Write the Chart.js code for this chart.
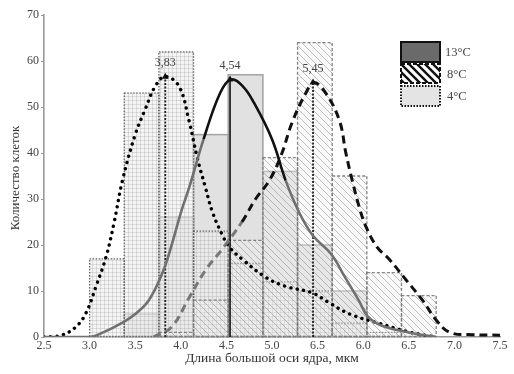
<!DOCTYPE html>
<html><head><meta charset="utf-8">
<script src="https://cdn.jsdelivr.net/npm/chart.js@4"></script>
<style>html,body{margin:0;padding:0;background:#fff}#wrap{width:514px;height:374px;position:relative}</style>
</head><body><div id="wrap"><canvas id="c"></canvas></div>
<script>
// ---- data ----
const binStarts = [3.0, 3.38, 3.76, 4.14, 4.52, 4.90, 5.28, 5.66, 6.04, 6.42];
const binWidth = 0.38;
const counts13 = [0, 5, 26, 44, 57, 36, 20, 10, 0, 0];
const counts8  = [0, 0, 1, 8, 21, 39, 64, 35, 14, 9];
const counts4  = [17, 53, 62, 23, 16, 12, 10, 3, 1, 0];

const fit13X = [2.5, 3.0, 3.15, 3.35, 3.5, 3.65, 3.8, 3.9, 4.0, 4.1, 4.25, 4.43, 4.55, 4.68, 4.8, 5.0, 5.15, 5.3, 5.45, 5.65, 5.8, 5.95, 6.05, 6.2, 6.5, 6.8];
const fit13Y = [0, 0, 1, 3, 5, 8, 14, 20, 27, 33, 43, 53, 56, 54.5, 51, 43, 34, 27, 22, 18, 13, 8, 4.5, 2.5, 1, 0];

const fit4X = [2.5, 2.6, 2.7, 2.85, 2.96, 3.07, 3.18, 3.27, 3.36, 3.5, 3.61, 3.72, 3.83, 3.98, 4.09, 4.18, 4.27, 4.35, 4.46, 4.53, 4.68, 4.93, 5.15, 5.44, 5.63, 5.85, 6.17, 6.52, 6.8];
const fit4Y = [0, 0.1, 0.4, 2.2, 5.2, 11, 17.4, 25, 34, 44, 49.5, 54.5, 56.6, 54.5, 47, 39, 32.5, 27, 22, 19.6, 16.8, 13, 11, 9.6, 7.4, 5, 3, 1, 0];

const fit8X = [3.7, 3.9, 4.09, 4.27, 4.45, 4.67, 4.82, 4.97, 5.1, 5.22, 5.37, 5.46, 5.59, 5.74, 5.81, 5.88, 5.96, 6.03, 6.15, 6.29, 6.47, 6.65, 6.8, 6.95, 7.2, 7.5];
const fit8Y = [0, 2.2, 8.5, 14.5, 19, 25, 30, 34, 39.5, 46.6, 53, 55.3, 53, 47, 40, 34, 28, 24, 19.6, 16.8, 12.4, 8, 3.7, 1, 0.5, 0.4];

const peakX = [3.83, 4.54, 5.45];
const peakY = [56.6, 56, 55.3];
const peakLabels = ['3,83', '4,54', '5,45'];

const xTickLabels = ['2.5', '3.0', '3.5', '4.0', '4.5', '5.0', '6.5', '6.0', '6.5', '7.0', '7.5'];
const seriesNames = ['13°C', '8°C', '4°C'];
const xTitle = 'Длина большой оси ядра, мкм';
const yTitle = 'Количество клеток';

// ---- helpers ----
const FONT = "'Liberation Serif', 'Times New Roman', serif";
Chart.defaults.font.family = FONT;

function gridPattern() {
  const c = document.createElement('canvas'); c.width = 4; c.height = 4;
  const g = c.getContext('2d');
  g.fillStyle = 'rgba(238,238,238,0.6)'; g.fillRect(0, 0, 4, 4);
  g.fillStyle = 'rgba(160,160,160,0.3)'; g.fillRect(0, 0, 4, 1); g.fillRect(0, 0, 1, 4);
  return g.createPattern(c, 'repeat');
}
function hatchPattern(color, lw, size, bg) {
  const c = document.createElement('canvas'); c.width = size; c.height = size;
  const g = c.getContext('2d');
  if (bg) { g.fillStyle = bg; g.fillRect(0, 0, size, size); }
  g.strokeStyle = color; g.lineWidth = lw;
  g.beginPath();
  g.moveTo(-1, -1); g.lineTo(size + 1, size + 1);
  g.moveTo(-1, size - 1); g.lineTo(1, size + 1);
  g.moveTo(size - 1, -1); g.lineTo(size + 1, 1);
  g.stroke();
  return g.createPattern(c, 'repeat');
}
function bars(counts) {
  const out = [];
  counts.forEach((v, i) => { if (v > 0) out.push({ x: binStarts[i] + binWidth / 2, y: v }); });
  return out;
}
function pts(xs, ys) { return xs.map((x, i) => ({ x, y: ys[i] })); }

const barCommon = { type: 'bar', grouped: false, barPercentage: 1, categoryPercentage: 1, borderWidth: 0 };
const lineCommon = { type: 'line', pointRadius: 0, tension: 0.4, fill: false, order: 0 };

const datasets = [
  Object.assign({}, lineCommon, { label: 'fit13', data: pts(fit13X, fit13Y), borderWidth: 2.6, borderColor: '#000',
    segment: { borderColor: c => (c.p0.parsed.y > 33 && c.p1.parsed.y > 33) ? '#111' : '#707070' } }),
  Object.assign({}, lineCommon, { label: 'fit8', data: pts(fit8X, fit8Y), borderWidth: 3, borderColor: '#000', borderDash: [8, 5],
    segment: { borderColor: c => (c.p1.parsed.x < 4.75) ? '#777' : '#111' } }),
  Object.assign({}, lineCommon, { label: 'fit4', data: pts(fit4X, fit4Y), borderWidth: 3.4, borderColor: '#000', borderDash: [0.1, 6.4], borderCapStyle: 'round' }),
];
peakX.forEach((px, i) => {
  datasets.push(Object.assign({}, lineCommon, {
    label: 'peak' + i, data: [{ x: px, y: 0 }, { x: px, y: peakY[i] }], tension: 0,
    borderColor: i === 1 ? '#111' : '#222', borderWidth: i === 1 ? 1.6 : 1.8, borderDash: i === 1 ? [] : [2, 1.5],
    pointRadius: [0, 4], pointStyle: 'triangle', pointBackgroundColor: '#111', pointBorderWidth: 0
  }));
});
datasets.push(Object.assign({}, barCommon, { label: seriesNames[1], data: bars(counts8), order: 1,
  backgroundColor: hatchPattern('rgba(130,130,130,0.5)', 1, 7, 'rgba(242,242,242,0.35)'),
  outlineDash: [3, 2], outlineColor: 'rgba(120,120,120,0.9)', outlineWidth: 1.3 }));
datasets.push(Object.assign({}, barCommon, { label: seriesNames[2], data: bars(counts4), order: 2,
  backgroundColor: gridPattern(), outlineDash: [1.5, 1.5], outlineColor: 'rgba(90,90,90,0.9)', outlineWidth: 1.3 }));
datasets.push(Object.assign({}, barCommon, { label: seriesNames[0], data: bars(counts13), order: 3,
  backgroundColor: 'rgba(205,205,205,0.6)', outlineDash: [], outlineColor: 'rgba(155,155,155,0.9)', outlineWidth: 1.5 }));

const overlay = {
  id: 'overlay',
  afterDatasetDraw(chart, args) {
    const ds = chart.data.datasets[args.index];
    if (!ds.outlineDash) return;
    const ctx = chart.ctx; ctx.save();
    ctx.setLineDash(ds.outlineDash); ctx.strokeStyle = ds.outlineColor; ctx.lineWidth = ds.outlineWidth;
    args.meta.data.forEach(el => {
      const p = el.getProps(['x', 'y', 'base', 'width'], true);
      ctx.strokeRect(p.x - p.width / 2, p.y, p.width, p.base - p.y);
    });
    ctx.restore();
  },
  afterDraw(chart) {
    const ctx = chart.ctx, xs = chart.scales.x, ys = chart.scales.y, ca = chart.chartArea;
    ctx.save();
    // peak labels
    ctx.font = '12px ' + FONT; ctx.fillStyle = '#444'; ctx.textAlign = 'center'; ctx.textBaseline = 'middle';
    peakX.forEach((px, i) => ctx.fillText(peakLabels[i], xs.getPixelForValue(px), ys.getPixelForValue(peakY[i] + 3)));
    // axis titles
    ctx.font = '13.5px ' + FONT; ctx.fillStyle = '#333';
    ctx.fillText(xTitle, (ca.left + ca.right) / 2, ca.bottom + 21);
    ctx.font = '13px ' + FONT;
    ctx.save(); ctx.translate(16, (ca.top + ca.bottom) / 2 + 2); ctx.rotate(-Math.PI / 2);
    ctx.fillText(yTitle, 0, 0); ctx.restore();
    // legend
    const lx = 401, lw = 39, boxes = [[42, 20], [64, 19], [86, 20]];
    ctx.fillStyle = '#6a6a6a'; ctx.fillRect(lx, boxes[0][0], lw, boxes[0][1]);
    ctx.setLineDash([]); ctx.lineWidth = 2; ctx.strokeStyle = '#111'; ctx.strokeRect(lx, boxes[0][0], lw, boxes[0][1]);
    ctx.fillStyle = '#fff'; ctx.fillRect(lx, boxes[1][0], lw, boxes[1][1]);
    ctx.save(); ctx.translate(lx, boxes[1][0]);
    ctx.fillStyle = hatchPattern('#111', 2.4, 8, null); ctx.fillRect(0, 0, lw, boxes[1][1]); ctx.restore();
    ctx.setLineDash([4, 2]); ctx.lineWidth = 2; ctx.strokeStyle = '#111'; ctx.strokeRect(lx, boxes[1][0], lw, boxes[1][1]);
    ctx.fillStyle = '#e4e4e4'; ctx.fillRect(lx, boxes[2][0], lw, boxes[2][1]);
    ctx.setLineDash([1.5, 1.5]); ctx.lineWidth = 2; ctx.strokeStyle = '#111'; ctx.strokeRect(lx, boxes[2][0], lw, boxes[2][1]);
    ctx.setLineDash([]);
    ctx.font = '12.5px ' + FONT; ctx.fillStyle = '#444'; ctx.textAlign = 'left';
    seriesNames.forEach((n, i) => ctx.fillText(n, lx + 44 + (i ? 2 : 0), boxes[i][0] + boxes[i][1] / 2 + 1));
    ctx.restore();
  }
};

new Chart(document.getElementById('c'), {
  type: 'bar',
  data: { datasets },
  plugins: [overlay],
  options: {
    responsive: true, maintainAspectRatio: false, animation: false,
    layout: { padding: { top: 15, right: 14, left: 0, bottom: 0 } },
    plugins: { legend: { display: false }, tooltip: { enabled: false } },
    scales: {
      x: {
        type: 'linear', min: 2.5, max: 7.5, offset: false,
        afterFit: s => { s.height = 37; },
        ticks: { stepSize: 0.5, autoSkip: false, maxRotation: 0, padding: 2, color: '#444', font: { size: 12 },
          callback: (v, i) => xTickLabels[i] },
        grid: { display: true, drawOnChartArea: false, drawTicks: false, color: '#999' },
        border: { display: true, color: '#999', width: 1.6 }
      },
      y: {
        min: 0, max: 70,
        afterFit: s => { s.width = 44; },
        ticks: { stepSize: 10, padding: 2, color: '#444', font: { size: 12 } },
        grid: { drawOnChartArea: false, drawTicks: true, tickLength: 3, color: '#999' },
        border: { display: true, color: '#999', width: 1.6 }
      }
    }
  }
});
</script></body></html>
